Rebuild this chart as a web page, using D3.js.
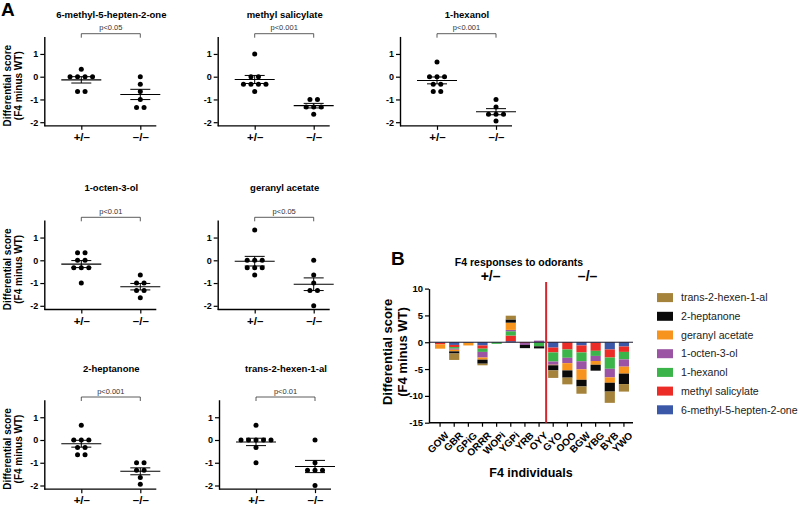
<!DOCTYPE html>
<html><head><meta charset="utf-8">
<script src="https://cdn.jsdelivr.net/npm/d3@7"></script>
<style>
body{margin:0;background:#fff}
svg{display:block}
text{font-family:"Liberation Sans",Arial,Helvetica,sans-serif}
</style>
</head><body>
<svg id="c" width="800" height="509"></svg>
<script>
// ---------- DATA ----------
const odorants = ["6-methyl-5-hepten-2-one","methyl salicylate","1-hexanol","1-octen-3-ol","geranyl acetate","2-heptanone","trans-2-hexen-1-al"];
const groups = ["+/\u2013","\u2013/\u2013"];
const pLabels = ["p<0.05","p<0.001","p<0.001","p<0.01","p<0.05","p<0.001","p<0.01"];
const yTicksA = [-2,-1,0,1];

// Panel A: differential scores per genotype
const het_methylHeptenone = [0.33,0,0,0,0,-0.65,-0.65];
const hom_methylHeptenone = [0,-0.33,-0.65,-1.0,-1.35,-1.35];
const het_methylSalicylate = [1.0,0,0,-0.33,-0.33,-0.33,-0.33,-0.65];
const hom_methylSalicylate = [-1.0,-1.0,-1.33,-1.33,-1.33,-1.65];
const het_hexanol = [0.65,0,0,0,-0.33,-0.33,-0.65,-0.65];
const hom_hexanol = [-1.0,-1.33,-1.65,-1.65,-1.65,-1.95];
const het_octenol = [0.33,0.33,0,0,-0.33,-0.33,-0.33,-1.0];
const hom_octenol = [-0.65,-1.0,-1.0,-1.33,-1.33,-1.65];
const het_geranyl = [1.33,0,0,0,-0.33,-0.33,-0.33,-0.65];
const hom_geranyl = [0,-0.65,-1.0,-1.33,-1.33,-2.0];
const het_heptanone = [0.65,0,0,0,-0.33,-0.33,-0.65,-0.65];
const hom_heptanone = [-1.0,-1.0,-1.33,-1.33,-1.65,-1.95];
const het_hexenal = [0.65,0,0,0,0,0,-0.33,-1.0];
const hom_hexenal = [0,-1.0,-1.33,-1.33,-1.33,-2.0];

// Panel B: stacked responses per F4 individual
const individuals = ["GOW","GBR","GPiG","ORRR","WOPi","YGPi","YRB","OYY","GYO","OOO","BGW","YBG","BYB","YWO"];
const hetCount = 8;
const yTicksB = [-15,-10,-5,0,5,10];
const b_methylHeptenone = [-0.1,-0.5,-0.1,-0.6,0,0.2,0,0,-1.0,0,-0.6,-0.1,-1.35,-0.8];
const b_methylSalicylate = [-0.3,-0.4,0,-0.6,0,1.05,-0.15,0,-0.9,-1.35,-1.3,-1.5,-1.5,-1.0];
const b_hexanol = [0,-0.3,0,-0.6,-0.3,0.8,0,-0.75,-1.7,-1.55,-1.65,-0.95,-2.1,-1.4];
const b_octenol = [0,-0.2,0,-1.05,0,0.25,-0.35,0.3,-0.6,-1.0,-1.5,-0.95,-1.6,-1.35];
const b_geranyl = [-0.8,-0.3,-0.5,-0.4,0,1.35,0,0,-0.1,-1.35,-1.95,-0.7,-1.0,-1.3];
const b_heptanone = [0,-0.4,0,-0.75,0,0.6,-0.6,-0.4,-0.95,-1.35,-1.25,-1.1,-1.65,-1.95];
const b_hexenal = [0,-1.2,0,-0.3,0,0.7,0,0,-1.4,-1.25,-1.35,0,-2.1,-1.4];

const colors = ["#3b58a8","#ec2c26","#3bb54a","#9b54a3","#f7941e","#0a0a0a","#a6833b"];

// ---------- DRAW ----------
const svg = d3.select("#c");
const hetSets = [het_methylHeptenone,het_methylSalicylate,het_hexanol,het_octenol,het_geranyl,het_heptanone,het_hexenal];
const homSets = [hom_methylHeptenone,hom_methylSalicylate,hom_hexanol,hom_octenol,hom_geranyl,hom_heptanone,hom_hexenal];

// layout
const colX = [44.3, 217.7, 400, 44.3, 217.7, 44.3, 219];
const rowOf = [0,0,0,1,1,2,2];
const rowZero = [76.7, 260.3, 440];
const rowTitle = [18, 190.5, 371.5];
const pxPerUnit = 22.75;

svg.append("text").attr("x",1).attr("y",16).attr("font-size",19).attr("font-weight","bold").text("A");

function styleAxis(g, fs){
  g.selectAll(".domain").attr("stroke","#000").attr("stroke-width",1.4);
  g.selectAll(".tick line").attr("stroke","#000").attr("stroke-width",1.2);
  g.selectAll(".tick text").attr("fill","#000").attr("font-weight","bold").attr("font-size",fs)
    .attr("font-family",'"Liberation Sans",Arial,sans-serif');
}

function layoutDots(vals){
  const bins = d3.group(vals, v => v.toFixed(2));
  const out = [];
  for (const [k, arr] of bins) arr.forEach((v,j) => out.push({v, dx:(j-(arr.length-1)/2)*7.5}));
  return out;
}

odorants.forEach((name, i) => {
  const ax = colX[i], r = rowOf[i], z = rowZero[r];
  const y = d3.scaleLinear().domain([-2.16, 1.77]).range([z + 2.16*pxPerUnit, z - 1.77*pxPerUnit]);
  const x = d3.scalePoint().domain(groups).range([ax + 37, ax + 96]);
  const g = svg.append("g");
  const xb = y(-2.16);

  g.append("g").attr("transform",`translate(${ax},0)`)
    .call(d3.axisLeft(y).tickValues(yTicksA).tickFormat(v => String(v)).tickSize(4).tickSizeOuter(0).tickPadding(2))
    .call(s => styleAxis(s, 9));
  g.append("line").attr("x1",ax).attr("x2",ax+112).attr("y1",xb).attr("y2",xb).attr("stroke","#000").attr("stroke-width",1.4);
  g.append("g").attr("transform",`translate(0,${xb})`)
    .call(d3.axisBottom(x).tickSize(4).tickPadding(3))
    .call(s => { s.select(".domain").remove(); styleAxis(s, 11.5); });

  // title
  g.append("text").attr("x", ax + 67).attr("y", rowTitle[r]).attr("text-anchor","middle")
    .attr("font-size",9.5).attr("font-weight","bold").text(name);

  // bracket + p
  const by = z - 43;
  g.append("path").attr("d",`M${x(groups[0])},${by+4}V${by}H${x(groups[1])}V${by+4}`)
    .attr("fill","none").attr("stroke","#333").attr("stroke-width",0.8);
  g.append("text").attr("x",(x(groups[0])+x(groups[1]))/2).attr("y",by-3.5).attr("text-anchor","middle")
    .attr("font-size",7.5).attr("fill","#333").text(pLabels[i]);

  [hetSets[i], homSets[i]].forEach((vals, gi) => {
    const cx = x(groups[gi]);
    const m = d3.mean(vals), sem = d3.deviation(vals)/Math.sqrt(vals.length);
    g.append("line").attr("x1",cx).attr("x2",cx).attr("y1",y(m+sem)).attr("y2",y(m-sem)).attr("stroke","#000").attr("stroke-width",1);
    g.append("line").attr("x1",cx-20).attr("x2",cx+20).attr("y1",y(m)).attr("y2",y(m)).attr("stroke","#000").attr("stroke-width",1.1);
    [m+sem, m-sem].forEach(v => g.append("line").attr("x1",cx-10).attr("x2",cx+10).attr("y1",y(v)).attr("y2",y(v)).attr("stroke","#000").attr("stroke-width",1));
    g.selectAll(null).data(layoutDots(vals)).join("circle")
      .attr("cx", d => cx + d.dx).attr("cy", d => y(d.v)).attr("r",2.5).attr("fill","#000");
  });

  if (ax < 100) {
    const ly = z + 9;
    g.append("text").attr("transform",`translate(11,${ly}) rotate(-90)`).attr("text-anchor","middle")
      .attr("font-size",10).attr("font-weight","bold").text("Differential score");
    g.append("text").attr("transform",`translate(22,${ly}) rotate(-90)`).attr("text-anchor","middle")
      .attr("font-size",10).attr("font-weight","bold").text("(F4 minus WT)");
  }
});

// ---------- Panel B ----------
svg.append("text").attr("x",391).attr("y",265).attr("font-size",19).attr("font-weight","bold").text("B");
svg.append("text").attr("x",519).attr("y",266).attr("text-anchor","middle").attr("font-size",10.5).attr("font-weight","bold").text("F4 responses to odorants");

const bSeries = [b_methylHeptenone,b_methylSalicylate,b_hexanol,b_octenol,b_geranyl,b_heptanone,b_hexenal];
const table = individuals.map((ind, j) => {
  const row = {ind};
  odorants.forEach((o, k) => row[o] = bSeries[k][j]);
  return row;
});
const stack = d3.stack().keys(odorants).offset(d3.stackOffsetDiverging)(table);

const yB = d3.scaleLinear().domain([-15, 10]).range([422.7, 288.6]);
const xB = d3.scaleBand().domain(individuals).range([433, 631]).paddingInner(0.28).paddingOuter(0.14);
const axB = 429;

const gb = svg.append("g");
gb.selectAll("g.series").data(stack).join("g").attr("fill",(d,k)=>colors[k])
  .selectAll("rect").data(d => d).join("rect")
  .attr("x", d => xB(d.data.ind)).attr("width", xB.bandwidth())
  .attr("y", d => yB(Math.max(d[0], d[1]))).attr("height", d => Math.abs(yB(d[0]) - yB(d[1])));

gb.append("line").attr("x1",axB).attr("x2",633).attr("y1",yB(0)).attr("y2",yB(0)).attr("stroke","#1a1a2e").attr("stroke-width",1);

gb.append("g").attr("transform",`translate(${axB},0)`)
  .call(d3.axisLeft(yB).tickValues(yTicksB).tickFormat(v => String(v)).tickSize(4).tickSizeOuter(0).tickPadding(2))
  .call(s => styleAxis(s, 9.5));
gb.append("line").attr("x1",axB).attr("x2",633).attr("y1",yB(-15)).attr("y2",yB(-15)).attr("stroke","#000").attr("stroke-width",1.4);
gb.append("g").attr("transform",`translate(0,${yB(-15)})`)
  .call(d3.axisBottom(xB).tickSize(4).tickPadding(3))
  .call(s => { s.select(".domain").remove(); styleAxis(s, 10); })
  .call(s => s.selectAll(".tick text").attr("text-anchor","end").attr("dy","0.35em")
    .attr("transform","translate(2,6) rotate(-45)"));

// divider
const xDiv = (xB(individuals[hetCount-1]) + xB(individuals[hetCount]) + xB.bandwidth())/2;
gb.append("line").attr("x1",xDiv).attr("x2",xDiv).attr("y1",282).attr("y2",yB(-15)).attr("stroke","#d3262d").attr("stroke-width",2);

gb.append("text").attr("x",(xB(individuals[0]) + xDiv)/2).attr("y",281).attr("text-anchor","middle")
  .attr("font-size",14).attr("font-weight","bold").text(groups[0]);
gb.append("text").attr("x",(xDiv + xB(individuals[individuals.length-1]) + xB.bandwidth())/2).attr("y",281).attr("text-anchor","middle")
  .attr("font-size",14).attr("font-weight","bold").text(groups[1]);

gb.append("text").attr("transform","translate(392,352) rotate(-90)").attr("text-anchor","middle")
  .attr("font-size",13).attr("font-weight","bold").text("Differential score");
gb.append("text").attr("transform","translate(407,352) rotate(-90)").attr("text-anchor","middle")
  .attr("font-size",13).attr("font-weight","bold").text("(F4 minus WT)");
gb.append("text").attr("x",531).attr("y",477).attr("text-anchor","middle")
  .attr("font-size",12.5).attr("font-weight","bold").text("F4 individuals");

// legend
const legItems = odorants.map((o,k) => ({o, c: colors[k]})).reverse();
const lg = svg.append("g").selectAll("g").data(legItems).join("g")
  .attr("transform",(d,k) => `translate(657,${297.6 + k*18.7})`);
lg.append("rect").attr("x",0).attr("y",-4.5).attr("width",16).attr("height",9).attr("fill",d=>d.c);
lg.append("text").attr("x",24).attr("y",0).attr("dy","0.35em").attr("font-size",10.6).attr("fill","#222").text(d=>d.o);
</script>
</body></html>
